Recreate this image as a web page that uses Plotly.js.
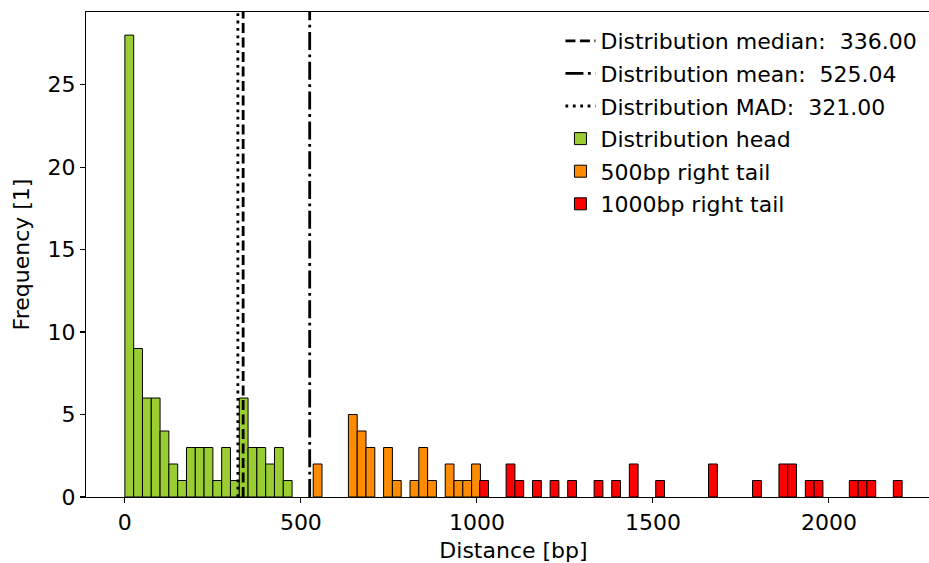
<!DOCTYPE html>
<html>
<head>
<meta charset="utf-8">
<script src="https://cdn.plot.ly/plotly-3.0.1.min.js"></script>
<style>
  html, body { margin: 0; padding: 0; overflow: hidden; background: #ffffff; }
  #chart { width: 945px; height: 563px; }
</style>
</head>
<body>
<div id="chart"></div>
<script>
// ---- Data ----
const binWidth = 25;

// Distribution head (bin left edges, counts)
const headBins   = [0, 25, 50, 75, 100, 125, 150, 175, 200, 225, 250, 275, 300, 325, 350, 375, 400, 425, 450];
const headCounts = [28, 9, 6, 6, 4, 2, 1, 3, 3, 3, 1, 3, 1, 6, 3, 3, 2, 3, 1];

// 500bp right tail
const tail500Bins   = [535, 635, 660, 685, 735, 760, 810, 835, 860, 910, 935, 960, 985];
const tail500Counts = [2, 5, 4, 3, 3, 1, 1, 3, 1, 2, 1, 1, 2];

// 1000bp right tail
const tail1000Bins   = [1008, 1083, 1108, 1158, 1208, 1258, 1333, 1383, 1433, 1508, 1658, 1783, 1858, 1883, 1933, 1958, 2058, 2083, 2108, 2183];
const tail1000Counts = [1, 2, 1, 1, 1, 1, 1, 1, 2, 1, 2, 1, 2, 2, 1, 1, 1, 1, 1, 1];

// Summary statistics
const statNames  = ["Distribution median:  336.00", "Distribution mean:  525.04", "Distribution MAD:  321.00"];
const statValues = [336.00, 525.04, 321.00];

const xTicks = [0, 500, 1000, 1500, 2000];
const yTicks = [0, 5, 10, 15, 20, 25];

// ---- Chart ----
const FONT = "DejaVu Sans, Liberation Sans, sans-serif";
const FS = 22;
const yMax = 29.4;
const statDashes = ["10px,4.5px", "18px,4.5px,2.8px,4.5px", "2.8px,4.6px"];

const traces = [];
statValues.forEach((v, i) => {
  traces.push({
    type: "scatter", mode: "lines",
    x: [v, v], y: [0, yMax],
    name: statNames[i],
    legendgroup: "g" + i,
    line: { color: "#000000", width: 2.8, dash: statDashes[i] },
    hoverinfo: "skip"
  });
});

function barTrace(bins, counts, name, color, gi) {
  return {
    type: "bar",
    x: bins, y: counts,
    width: bins.map(() => binWidth),
    offset: 0,
    name: name,
    legendgroup: "g" + gi,
    marker: { color: color, line: { color: "#000000", width: 1 } }
  };
}
traces.push(barTrace(headBins, headCounts, "Distribution head", "#9acd32", 3));
traces.push(barTrace(tail500Bins, tail500Counts, "500bp right tail", "#ff8c00", 4));
traces.push(barTrace(tail1000Bins, tail1000Counts, "1000bp right tail", "#ff0000", 5));

const layout = {
  width: 945, height: 563,
  margin: { l: 86, r: 4, t: 12, b: 66 },
  paper_bgcolor: "#ffffff", plot_bgcolor: "#ffffff",
  font: { family: FONT, size: FS, color: "#000000" },
  barmode: "overlay",
  showlegend: true,
  legend: {
    x: 0.5549, y: 0.9835, xanchor: "left", yanchor: "top",
    bgcolor: "rgba(0,0,0,0)", borderwidth: 0,
    font: { family: FONT, size: FS, color: "#000000" },
    traceorder: "grouped", tracegroupgap: 1
  },
  xaxis: {
    range: [-110.4, 2318.4],
    tickvals: xTicks, ticktext: xTicks.map(String),
    ticks: "outside", ticklen: 5, tickwidth: 1.1, tickcolor: "#000000",
    showgrid: false, zeroline: false,
    showline: true, linecolor: "#000000", linewidth: 1.1, mirror: true,
    tickfont: { family: FONT, size: FS },
    title: { text: "Distance [bp]", font: { family: FONT, size: FS }, standoff: 10 }
  },
  yaxis: {
    range: [0, yMax],
    tickvals: yTicks, ticktext: yTicks.map(String),
    ticks: "outside", ticklen: 5, tickwidth: 1.1, tickcolor: "#000000",
    showgrid: false, zeroline: false,
    showline: true, linecolor: "#000000", linewidth: 1.1, mirror: true,
    tickfont: { family: FONT, size: FS },
    title: { text: "Frequency [1]", font: { family: FONT, size: FS }, standoff: 11 }
  }
};

Plotly.newPlot("chart", traces, layout, { displayModeBar: false, staticPlot: true });
</script>
</body>
</html>
